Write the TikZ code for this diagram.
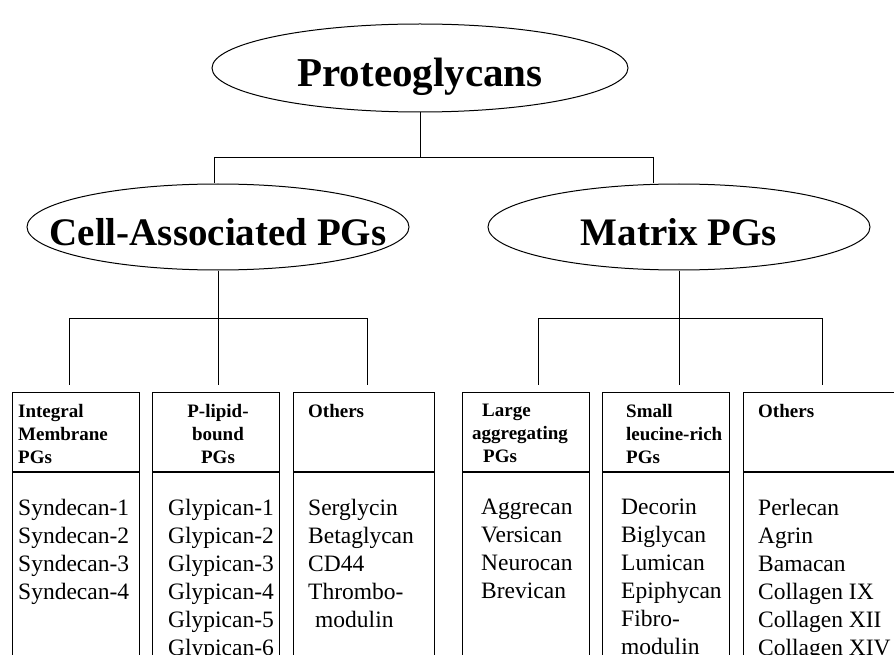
\documentclass[tikz,border=0pt]{standalone}
\usepackage{fontspec}
\setmainfont{Liberation Serif}
\usetikzlibrary{shapes.geometric}

\begin{document}
\begin{tikzpicture}[x=1pt, y=-1pt,
	oval/.style={ellipse, draw, line width=1pt, inner sep=0pt, text depth=0pt},
	link/.style={line width=0.8pt},
	pgbox/.style={draw, line width=1.2pt, anchor=north west, minimum height=330pt, inner sep=0pt},
	head/.style={font=\fontsize{19}{23}\selectfont\bfseries, inner sep=0pt, align=left, anchor=north west},
	body/.style={font=\fontsize{23.5}{28}\selectfont, inner sep=0pt, align=left, anchor=north west}]
\useasboundingbox (0,0) rectangle (894,655);

% ellipses
\node[oval, minimum width=416pt, minimum height=88pt, text height=38pt, font=\fontsize{41}{41}\selectfont\bfseries] (pg) at (420,68) {\makebox[0pt]{Proteoglycans}};
\node[oval, minimum width=382pt, minimum height=86pt, text height=36pt, font=\fontsize{39}{39}\selectfont\bfseries] (cap) at (218,227) {\makebox[0pt]{Cell-Associated PGs}};
\node[oval, minimum width=382pt, minimum height=86pt, text height=36pt, font=\fontsize{39}{39}\selectfont\bfseries] (mpg) at (679,227) {\makebox[0pt]{Matrix PGs}};

% first split
\coordinate (jt) at (420,157);
\coordinate (jtl) at (214,157);
\coordinate (jtr) at (653,157);
\draw[link] (pg.south) -- (jt);
\draw[link] (jtl) -- (jtr);
\draw[link] (jtl) -- (jtl |- cap.north);
\draw[link] (jtr) -- (jtr |- mpg.north);

% second split
\coordinate (jl) at (cap.south |- 0,318);
\coordinate (jr) at (mpg.south |- 0,318);
\draw[link] (cap.south) -- (jl);
\draw[link] (mpg.south) -- (jr);
\foreach \x [count=\i] in {69,218,367}{
	\coordinate (cl\i) at (\x,318);
	\coordinate (bl\i) at (\x,385);
	\draw[link] (cl\i) -- (bl\i);
}
\draw[link] (cl1) -- (cl3);
\foreach \x [count=\i] in {538,679,822}{
	\coordinate (cr\i) at (\x,318);
	\coordinate (br\i) at (\x,385);
	\draw[link] (cr\i) -- (br\i);
}
\draw[link] (cr1) -- (cr3);

% boxes
\node[pgbox, minimum width=127pt] (intg) at (12,392) {};
\node[pgbox, minimum width=127pt] (lipid) at (152,392) {};
\node[pgbox, minimum width=141pt] (othc) at (293,392) {};
\node[pgbox, minimum width=127pt] (large) at (462,392) {};
\node[pgbox, minimum width=127pt] (slrp) at (602,392) {};
\node[pgbox, minimum width=200pt] (othm) at (743,392) {};
\foreach \b in {intg,lipid,othc,large,slrp,othm}
	\draw[line width=1.2pt] (\b.west |- 0,472) -- (\b.east |- 0,472);

% headers
\node[head] (h1) at (18,404) {Integral\\Membrane\\PGs};
\node[head, align=center, anchor=north] (h2) at (218,404) {P-lipid-\\bound\\PGs};
\node[head] (h3) at (308,404) {Others};
\node[head] (h4) at (472,404) {\hspace*{10pt}Large\\aggregating\\\hspace*{11pt}PGs};
\node[head] (h5) at (626,404) {Small\\leucine-rich\\PGs};
\node[head] (h6) at (758,404) {Others};

% members
\node[body] (m1) at (18,499) {Syndecan-1\\Syndecan-2\\Syndecan-3\\Syndecan-4};
\node[body] (m2) at (168,499) {Glypican-1\\Glypican-2\\Glypican-3\\Glypican-4\\Glypican-5\\Glypican-6};
\node[body] (m3) at (308,499) {Serglycin\\Betaglycan\\CD44\\Thrombo-\\\hspace*{7pt}modulin};
\node[body] (m4) at (481,499) {Aggrecan\\Versican\\Neurocan\\Brevican};
\node[body] (m5) at (621,499) {Decorin\\Biglycan\\Lumican\\Epiphycan\\Fibro-\\modulin};
\node[body] (m6) at (758,499) {Perlecan\\Agrin\\Bamacan\\Collagen IX\\Collagen XII\\Collagen XIV};
\end{tikzpicture}
\end{document}
